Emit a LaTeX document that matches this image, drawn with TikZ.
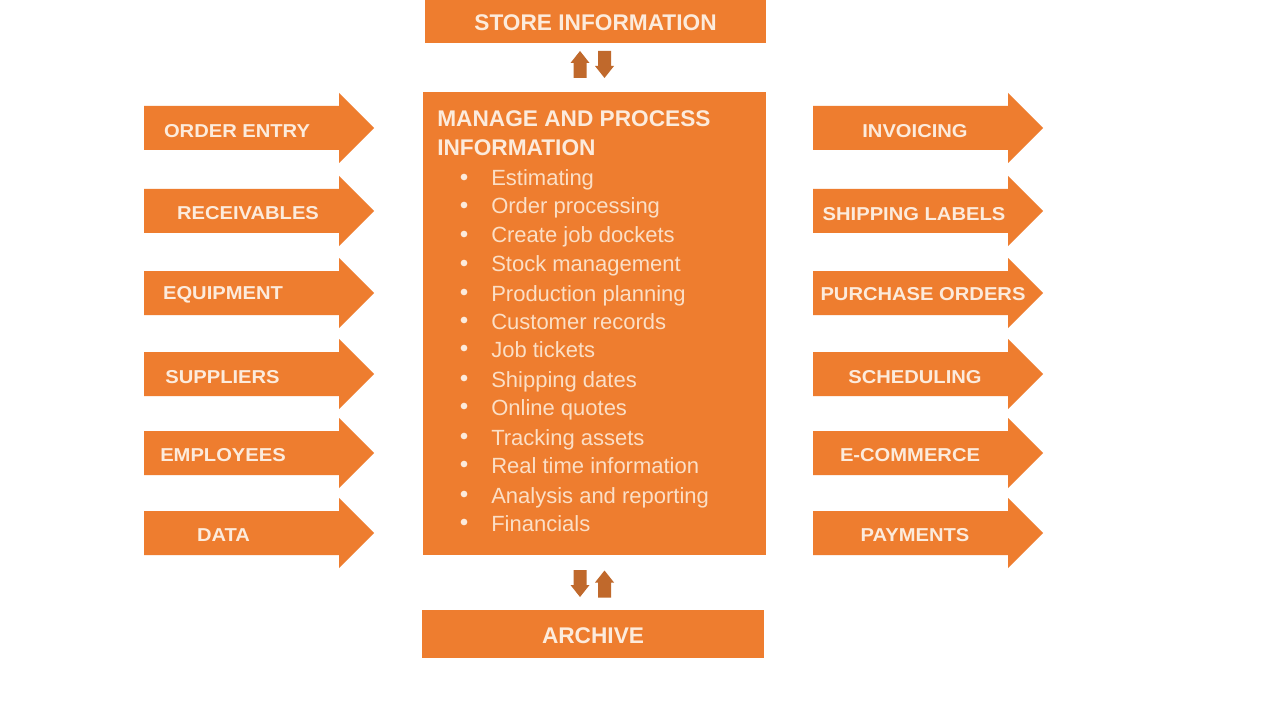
\documentclass[tikz,border=0pt]{standalone}
\usepackage{fontspec}
\setmainfont{Liberation Sans}
\newfontfamily\arrowfont{Liberation Sans}[FakeStretch=1.08]
\definecolor{orangefill}{HTML}{EE7D2F}
\definecolor{darkarrow}{HTML}{C0692C}
\definecolor{cream}{HTML}{FCEBDC}
\definecolor{softcream}{HTML}{FBDFC6}
\newcommand{\bigarrow}[2]{\fill[orangefill] (#1,#2-22) -- (#1+195,#2-22) -- (#1+195,#2-35) -- (#1+230,#2) -- (#1+195,#2+35) -- (#1+195,#2+22) -- (#1,#2+22) -- cycle;}
\newcommand{\uparrowshape}[2]{\fill[darkarrow] (#1-6.5,#2+13.5) -- (#1-6.5,#2-1.5) -- (#1-9.5,#2-1.5) -- (#1,#2-13.5) -- (#1+9.5,#2-1.5) -- (#1+6.5,#2-1.5) -- (#1+6.5,#2+13.5) -- cycle;}
\newcommand{\downarrowshape}[2]{\fill[darkarrow] (#1-6.5,#2-13.5) -- (#1-6.5,#2+1.5) -- (#1-9.5,#2+1.5) -- (#1,#2+13.5) -- (#1+9.5,#2+1.5) -- (#1+6.5,#2+1.5) -- (#1+6.5,#2-13.5) -- cycle;}
\tikzset{
  x=0.75pt,y=-0.75pt,
  lab/.style={text=cream,font=\arrowfont\bfseries\fontsize{14}{14}\selectfont,inner sep=0pt,anchor=center},
  boxlab/.style={text=cream,font=\bfseries\fontsize{17}{17}\selectfont,inner sep=0pt,anchor=center},
  item/.style={text=softcream,font=\fontsize{16.5}{16.5}\selectfont,inner sep=0pt,anchor=base west},
  dot/.style={circle,fill=cream,inner sep=0pt,minimum size=5pt},
}
\begin{document}
\begin{tikzpicture}
\useasboundingbox (0,0) rectangle (1280,720);
\fill[white] (0,0) rectangle (1280,720);
% boxes
\fill[orangefill] (425,0) rectangle (766,43);
\fill[orangefill] (423,92) rectangle (766,555);
\fill[orangefill] (422,610) rectangle (764,658);
\node[boxlab] (store) at (595.5,23) {STORE INFORMATION};
\node[boxlab] (archive) at (593,635.5) {ARCHIVE};
\node[boxlab,anchor=base west] (h1) at (437,127) {MANAGE AND PROCESS};
\node[boxlab,anchor=base west] (h2) at (437,156) {INFORMATION};
% small arrows
\uparrowshape{580}{64.5}
\downarrowshape{604.5}{64.5}
\downarrowshape{580}{583.5}
\uparrowshape{604.5}{584}
% list
\foreach \t/\y [count=\i] in {Estimating/178,Order processing/206,Create job dockets/235,Stock management/264,Production planning/293,Customer records/321,Job tickets/349,Shipping dates/379,Online quotes/407,Tracking assets/437,Real time information/465,Analysis and reporting/495,Financials/523}{
  \node[dot] (b\i) at (464,\y-1) {};
  \node[item] (t\i) at (491,\y+8) {\t};
}
% left arrows
\bigarrow{144}{128}\bigarrow{144}{211}\bigarrow{144}{293}\bigarrow{144}{374}\bigarrow{144}{453}\bigarrow{144}{533}
\node[lab] (l1) at (237,131) {ORDER ENTRY};
\node[lab] (l2) at (248,213) {RECEIVABLES};
\node[lab] (l3) at (223,295) {EQUIPMENT};
\node[lab] (l4) at (222.5,377) {SUPPLIERS};
\node[lab] (l5) at (223,455) {EMPLOYEES};
\node[lab] (l6) at (223.5,535) {DATA};
% right arrows
\bigarrow{813}{128}\bigarrow{813}{211}\bigarrow{813}{293}\bigarrow{813}{374}\bigarrow{813}{453}\bigarrow{813}{533}
\node[lab] (r1) at (915,131) {INVOICING};
\node[lab] (r2) at (914,214) {SHIPPING LABELS};
\node[lab] (r3) at (923,294) {PURCHASE ORDERS};
\node[lab] (r4) at (915,377) {SCHEDULING};
\node[lab] (r5) at (910,455) {E-COMMERCE};
\node[lab] (r6) at (915,535) {PAYMENTS};
\end{tikzpicture}
\end{document}
